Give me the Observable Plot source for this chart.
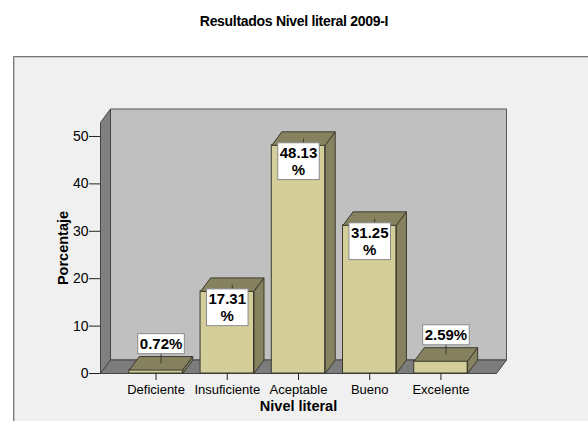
<!DOCTYPE html>
<html>
<head>
<meta charset="utf-8">
<script src="https://cdn.jsdelivr.net/npm/d3@7"></script>
<script src="https://cdn.jsdelivr.net/npm/@observablehq/plot@0.6"></script>
<style>
  html, body { margin: 0; padding: 0; background: #ffffff; width: 588px; height: 421px; overflow: hidden; }
  body { position: relative; font-family: "Liberation Sans", Arial, sans-serif; }
  #title { position: absolute; left: 0; top: 14px; width: 588px; text-align: center;
           font-size: 14px; line-height: 14px; font-weight: bold; letter-spacing: -0.3px; color: #000; }
  #frame { position: absolute; left: 13px; top: 56px; width: 620px; height: 420px;
           border-top: 1px solid #7a7a7a; border-left: 1px solid #7a7a7a;
           box-shadow: inset 1px 1px 0 #c8c8c8; background: #f0f0f0; }
  #chart { position: absolute; left: 0; top: 0; }
</style>
</head>
<body>
<div id="title">Resultados Nivel literal 2009-I</div>
<div id="frame"><div id="chart"></div></div>
<script>
// ---- data ----
const categories = ["Deficiente", "Insuficiente", "Aceptable", "Bueno", "Excelente"];
const percentages = [0.72, 17.31, 48.13, 31.25, 2.59];
const valueLabels = ["0.72%", "17.31\n%", "48.13\n%", "31.25\n%", "2.59%"];
const yTicks = [0, 10, 20, 30, 40, 50];
const xTitle = "Nivel literal";
const yTitle = "Porcentaje";

// ---- 3D geometry constants (data units) ----
const XMIN = -0.78, XMAX = 4.78, YMAX = 52.95;
const HALF = 0.375;          // half bar width in category units
const DX = 0.1404, DY = 2.85; // depth offset

const rows = categories.map((c, i) => ({cat: c, i, v: percentages[i], label: valueLabels[i]}));

function poly(id, pts) {
  const out = pts.map(([x, y]) => ({id, x, y}));
  out.push({id, x: pts[0][0], y: pts[0][1]});
  return out;
}
const backWall = poly("back", [[XMIN + DX, DY], [XMAX + DX, DY], [XMAX + DX, YMAX + DY], [XMIN + DX, YMAX + DY]]);
const leftWall = poly("left", [[XMIN, 0], [XMIN, YMAX], [XMIN + DX, YMAX + DY], [XMIN + DX, DY]]);
const floor = poly("floor", [[XMIN, 0], [XMAX, 0], [XMAX + DX, DY], [XMIN + DX, DY]]);
const tops = rows.flatMap(r => poly("t" + r.i, [[r.i - HALF, r.v], [r.i + HALF, r.v], [r.i + HALF + DX, r.v + DY], [r.i - HALF + DX, r.v + DY]]));
const sides = rows.flatMap(r => poly("s" + r.i, [[r.i + HALF, 0], [r.i + HALF, r.v], [r.i + HALF + DX, r.v + DY], [r.i + HALF + DX, DY]]));

const small = rows.filter(r => r.v < 5);
const large = rows.filter(r => r.v >= 5);

const FRONT = "#d4cf9a", DARK = "#86825f", EDGE = "#3a3a30";
const font = "'Liberation Sans', Arial, sans-serif";

const polyOpts = (fill, stroke) => ({x: "x", y: "y", z: "id", fill, stroke, strokeWidth: 1, strokeLinejoin: "miter", strokeLinecap: "butt", curve: "linear"});

const chart = Plot.plot({
  width: 574,
  height: 364,
  marginLeft: 86,
  marginRight: 92,
  marginTop: 65,
  marginBottom: 48,
  x: {domain: [XMIN, XMAX]},
  y: {domain: [0, YMAX]},
  style: {background: "transparent", fontFamily: font, color: "#000", overflow: "visible"},
  marks: [
    Plot.line(backWall, polyOpts("#c0c0c0", "#555555")),
    Plot.line(leftWall, polyOpts("#808080", "#444444")),
    Plot.line(floor, polyOpts("#7c7c7c", "#444444")),
    Plot.rect(rows, {x1: r => r.i - HALF, x2: r => r.i + HALF, y1: 0, y2: "v", fill: FRONT, stroke: EDGE, strokeWidth: 1}),
    Plot.line(tops, polyOpts(DARK, EDGE)),
    Plot.line(sides, polyOpts(DARK, EDGE)),
    Plot.axisY(yTicks, {tickSize: 11, tickPadding: 1, fontSize: 14, label: null, stroke: "#222"}),
    Plot.axisX(rows.map(r => r.i), {tickFormat: i => categories[i], tickSize: 7, tickPadding: 4, fontSize: 13, label: null, stroke: "#222"}),
    Plot.text([yTitle], {frameAnchor: "left", rotate: -90, dx: -37, textAnchor: "middle", lineAnchor: "middle", fontSize: 14.5, fontWeight: "bold"}),
    Plot.text([xTitle], {frameAnchor: "bottom", dy: 33, textAnchor: "middle", lineAnchor: "middle", fontSize: 14.5, fontWeight: "bold"}),
    // leader lines
    Plot.link(large, {x1: r => r.i + DX / 2, x2: r => r.i + DX / 2, y1: r => r.v + DY / 2, y2: "v", stroke: EDGE, strokeWidth: 1}),
    Plot.link(small, {x1: r => r.i + DX / 2, x2: r => r.i + DX / 2, y1: r => r.v + DY / 2, y2: r => r.v + DY / 2 + 2.2, stroke: EDGE, strokeWidth: 1}),
    // value labels
    Plot.text(small, {x: r => r.i + DX / 2, y: r => r.v + DY / 2, text: "label", dy: -19, fontSize: 15, fontWeight: "bold", lineAnchor: "middle", fill: "#000"}),
    Plot.text(large, {x: "i", y: "v", text: "label", dy: 1, fontSize: 15, fontWeight: "bold", lineAnchor: "top", lineHeight: 1.12, fill: "#000"})
  ]
});

document.getElementById("chart").appendChild(chart);

// white boxes behind the value labels
const svgNS = "http://www.w3.org/2000/svg";
const labelSet = new Set(valueLabels.map(s => s.replace(/\n/g, "")));
chart.querySelectorAll("text").forEach(t => {
  if (!labelSet.has(t.textContent.trim())) return;
  const b = t.getBBox();
  const r = document.createElementNS(svgNS, "rect");
  r.setAttribute("x", b.x - 2);
  r.setAttribute("y", b.y - 1.5);
  r.setAttribute("width", b.width + 4);
  r.setAttribute("height", b.height + 3);
  r.setAttribute("fill", "#ffffff");
  r.setAttribute("stroke", "#8a8a8a");
  r.setAttribute("stroke-width", 1);
  const tr = t.getAttribute("transform");
  if (tr) r.setAttribute("transform", tr);
  t.parentNode.insertBefore(r, t);
});
</script>
</body>
</html>
